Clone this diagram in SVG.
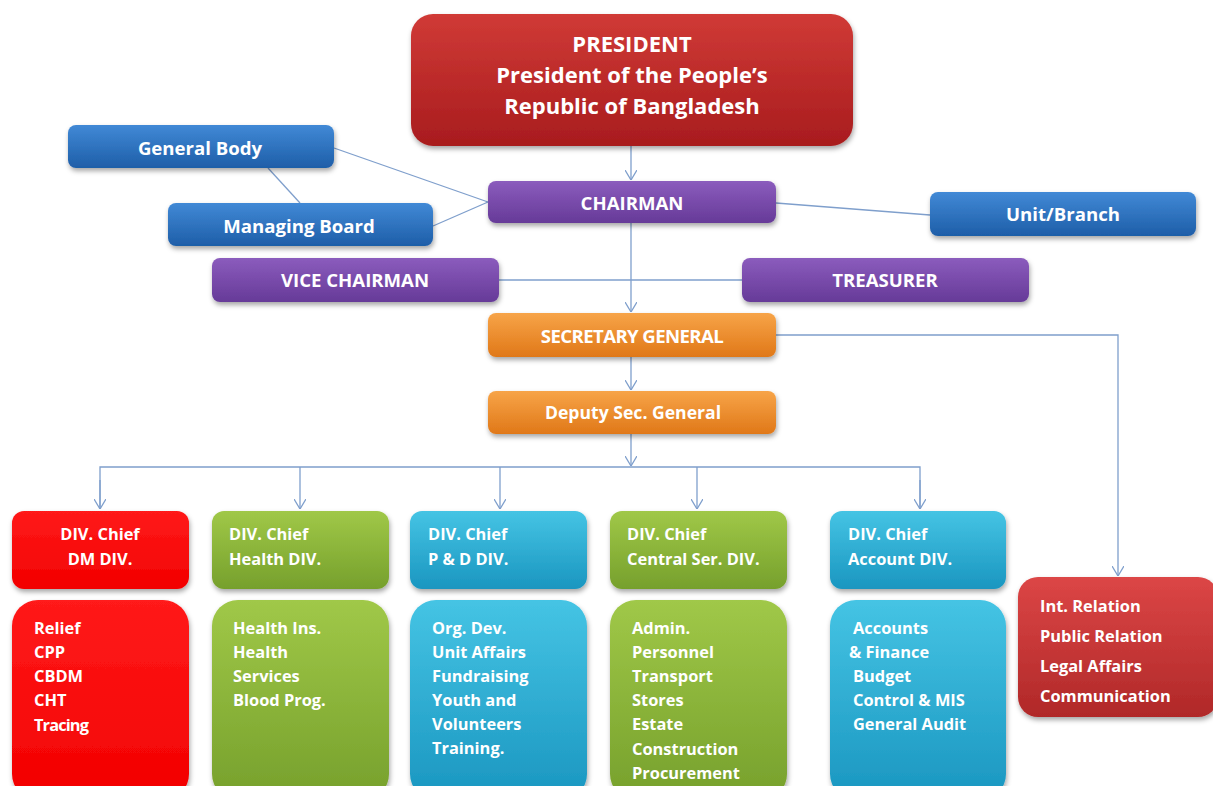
<svg xmlns="http://www.w3.org/2000/svg" width="1213" height="786" viewBox="0 0 1213 786">
<style>
.t{font-family:"Open Sans","Liberation Sans",sans-serif;font-weight:bold;fill:#ffffff}
.c{text-anchor:middle}
.h{font-size:18.6px}
.d{font-size:16.4px}
.l{stroke:#7f9fcc;stroke-width:1.3;fill:none}
</style>
<defs>
<filter id="sh" x="-10%" y="-10%" width="130%" height="140%"><feDropShadow dx="1" dy="3" stdDeviation="2.5" flood-color="#000" flood-opacity="0.35"/></filter>
<marker id="av" viewBox="0 0 12 10" refX="6" refY="10" markerWidth="12" markerHeight="10" markerUnits="userSpaceOnUse">
<path d="M0,0 L6,10 L12,0" fill="none" stroke="#7f9fcc" stroke-width="1.3"/>
</marker>
<linearGradient id="gRed" x1="0" y1="0" x2="0" y2="1"><stop offset="0" stop-color="#d03a36"/><stop offset="1" stop-color="#a81c1e"/></linearGradient>
<linearGradient id="gBlue" x1="0" y1="0" x2="0" y2="1"><stop offset="0" stop-color="#4189d6"/><stop offset="1" stop-color="#1e5ea8"/></linearGradient>
<linearGradient id="gPur" x1="0" y1="0" x2="0" y2="1"><stop offset="0" stop-color="#8b5cbd"/><stop offset="1" stop-color="#663a98"/></linearGradient>
<linearGradient id="gOr" x1="0" y1="0" x2="0" y2="1"><stop offset="0" stop-color="#f7a448"/><stop offset="1" stop-color="#e07818"/></linearGradient>
<linearGradient id="gDM" x1="0" y1="0" x2="0" y2="1"><stop offset="0" stop-color="#ff1a1a"/><stop offset="1" stop-color="#f20000"/></linearGradient>
<linearGradient id="gGr" x1="0" y1="0" x2="0" y2="1"><stop offset="0" stop-color="#a0c848"/><stop offset="1" stop-color="#76a02c"/></linearGradient>
<linearGradient id="gCy" x1="0" y1="0" x2="0" y2="1"><stop offset="0" stop-color="#45c4e4"/><stop offset="1" stop-color="#1a96c0"/></linearGradient>
<linearGradient id="gIR" x1="0" y1="0" x2="0" y2="1"><stop offset="0" stop-color="#dc4646"/><stop offset="1" stop-color="#b02828"/></linearGradient>
</defs>
<rect width="1213" height="786" fill="#ffffff"/>

<g id="connectors">
<line class="l" x1="631" y1="146" x2="631" y2="180" marker-end="url(#av)"/>
<line class="l" x1="631" y1="223" x2="631" y2="312" marker-end="url(#av)"/>
<line class="l" x1="499" y1="280" x2="742" y2="280"/>
<line class="l" x1="334" y1="148" x2="488" y2="202"/>
<line class="l" x1="433" y1="226" x2="488" y2="202"/>
<line class="l" x1="268" y1="168" x2="300" y2="203"/>
<line class="l" x1="776" y1="203" x2="930" y2="215"/>
<line class="l" x1="631" y1="357" x2="631" y2="390" marker-end="url(#av)"/>
<polyline class="l" points="776,335 1118,335 1118,576" marker-end="url(#av)"/>
<line class="l" x1="631" y1="434" x2="631" y2="466" marker-end="url(#av)"/>
<polyline class="l" points="100,509 100,467 920,467 920,509"/>
<line class="l" x1="100" y1="480" x2="100" y2="509" marker-end="url(#av)"/>
<line class="l" x1="300" y1="467" x2="300" y2="509" marker-end="url(#av)"/>
<line class="l" x1="500" y1="467" x2="500" y2="509" marker-end="url(#av)"/>
<line class="l" x1="697" y1="467" x2="697" y2="509" marker-end="url(#av)"/>
<line class="l" x1="920" y1="480" x2="920" y2="509" marker-end="url(#av)"/>
</g>

<g id="president">
<rect x="411" y="14" width="442" height="132" rx="22" fill="url(#gRed)" filter="url(#sh)"/>
<text class="t c" x="632" y="52" font-size="22">PRESIDENT</text>
<text class="t c" x="632" y="83" font-size="22">President of the People’s</text>
<text class="t c" x="632" y="114" font-size="22">Republic of Bangladesh</text>
</g>
<g id="general-body">
<rect x="68" y="125" width="266" height="43" rx="8" fill="url(#gBlue)" filter="url(#sh)"/>
<text class="t c h" x="200" y="155">General Body</text>
</g>
<g id="managing-board">
<rect x="168" y="203" width="265" height="43" rx="8" fill="url(#gBlue)" filter="url(#sh)"/>
<text class="t c h" x="299" y="233">Managing Board</text>
</g>
<g id="chairman">
<rect x="488" y="181" width="288" height="42" rx="8" fill="url(#gPur)" filter="url(#sh)"/>
<text class="t c h" x="632" y="210">CHAIRMAN</text>
</g>
<g id="unit-branch">
<rect x="930" y="192" width="266" height="44" rx="8" fill="url(#gBlue)" filter="url(#sh)"/>
<text class="t c h" x="1063" y="221">Unit/Branch</text>
</g>
<g id="vice-chairman">
<rect x="212" y="258" width="287" height="44" rx="8" fill="url(#gPur)" filter="url(#sh)"/>
<text class="t c h" x="355" y="287">VICE CHAIRMAN</text>
</g>
<g id="treasurer">
<rect x="742" y="258" width="287" height="44" rx="8" fill="url(#gPur)" filter="url(#sh)"/>
<text class="t c h" x="885" y="287">TREASURER</text>
</g>
<g id="secretary-general">
<rect x="488" y="313" width="288" height="44" rx="8" fill="url(#gOr)" filter="url(#sh)"/>
<text class="t c h" x="632" y="343" letter-spacing="-0.6">SECRETARY GENERAL</text>
</g>
<g id="deputy-sec-general">
<rect x="488" y="391" width="288" height="43" rx="8" fill="url(#gOr)" filter="url(#sh)"/>
<text class="t c" x="633" y="419" font-size="17.6">Deputy Sec. General</text>
</g>

<g id="div-dm">
<rect x="12" y="511" width="177" height="78" rx="12" fill="url(#gDM)" filter="url(#sh)"/>
<text class="t d" x="100" y="540" text-anchor="middle">DIV. Chief</text>
<text class="t d" x="100" y="565" text-anchor="middle">DM DIV.</text>
</g>
<g id="div-health">
<rect x="212" y="511" width="177" height="78" rx="12" fill="url(#gGr)" filter="url(#sh)"/>
<text class="t d" x="229" y="540">DIV. Chief</text>
<text class="t d" x="229" y="565">Health DIV.</text>
</g>
<g id="div-pd">
<rect x="410" y="511" width="177" height="78" rx="12" fill="url(#gCy)" filter="url(#sh)"/>
<text class="t d" x="428" y="540">DIV. Chief</text>
<text class="t d" x="428" y="565">P &amp; D DIV.</text>
</g>
<g id="div-central">
<rect x="610" y="511" width="177" height="78" rx="12" fill="url(#gGr)" filter="url(#sh)"/>
<text class="t d" x="627" y="540">DIV. Chief</text>
<text class="t d" x="627" y="565">Central Ser. DIV.</text>
</g>
<g id="div-account">
<rect x="830" y="511" width="176" height="78" rx="12" fill="url(#gCy)" filter="url(#sh)"/>
<text class="t d" x="848" y="540">DIV. Chief</text>
<text class="t d" x="848" y="565">Account DIV.</text>
</g>

<g id="list-dm">
<rect x="12" y="600" width="177" height="200" rx="26" fill="url(#gDM)" filter="url(#sh)"/>
<text class="t d" x="34" y="634">Relief</text>
<text class="t d" x="34" y="658">CPP</text>
<text class="t d" x="34" y="682">CBDM</text>
<text class="t d" x="34" y="706">CHT</text>
<text class="t d" x="34" y="731" letter-spacing="-0.9">Tracing</text>
</g>
<g id="list-health">
<rect x="212" y="600" width="177" height="200" rx="26" fill="url(#gGr)" filter="url(#sh)"/>
<text class="t d" x="233" y="634">Health Ins.</text>
<text class="t d" x="233" y="658">Health</text>
<text class="t d" x="233" y="682">Services</text>
<text class="t d" x="233" y="706">Blood Prog.</text>
</g>
<g id="list-pd">
<rect x="410" y="600" width="177" height="200" rx="26" fill="url(#gCy)" filter="url(#sh)"/>
<text class="t d" x="432" y="634">Org. Dev.</text>
<text class="t d" x="432" y="658">Unit Affairs</text>
<text class="t d" x="432" y="682">Fundraising</text>
<text class="t d" x="432" y="706">Youth and</text>
<text class="t d" x="432" y="730">Volunteers</text>
<text class="t d" x="432" y="754">Training.</text>
</g>
<g id="list-central">
<rect x="610" y="600" width="177" height="200" rx="26" fill="url(#gGr)" filter="url(#sh)"/>
<text class="t d" x="632" y="634">Admin.</text>
<text class="t d" x="632" y="658">Personnel</text>
<text class="t d" x="632" y="682">Transport</text>
<text class="t d" x="632" y="706">Stores</text>
<text class="t d" x="632" y="730">Estate</text>
<text class="t d" x="632" y="755">Construction</text>
<text class="t d" x="632" y="779">Procurement</text>
</g>
<g id="list-account">
<rect x="830" y="600" width="176" height="200" rx="26" fill="url(#gCy)" filter="url(#sh)"/>
<text class="t d" x="853" y="634">Accounts</text>
<text class="t d" x="849" y="658">&amp; Finance</text>
<text class="t d" x="853" y="682">Budget</text>
<text class="t d" x="853" y="706">Control &amp; MIS</text>
<text class="t d" x="853" y="730">General Audit</text>
</g>
<g id="int-relation">
<rect x="1018" y="577" width="200" height="140" rx="20" fill="url(#gIR)" filter="url(#sh)"/>
<text class="t d" x="1040" y="612">Int. Relation</text>
<text class="t d" x="1040" y="642">Public Relation</text>
<text class="t d" x="1040" y="672">Legal Affairs</text>
<text class="t d" x="1040" y="702">Communication</text>
</g>
</svg>
